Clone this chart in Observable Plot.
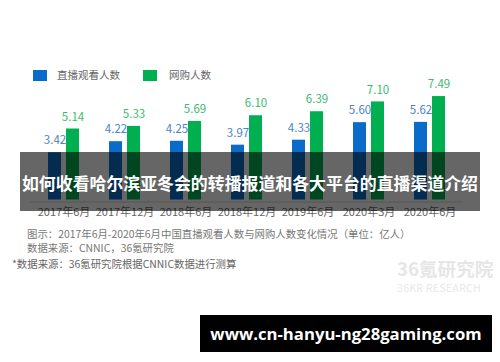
<!DOCTYPE html>
<html>
<head>
<meta charset="utf-8">
<script src="https://cdn.jsdelivr.net/npm/d3@7"></script>
<script src="https://cdn.jsdelivr.net/npm/@observablehq/plot@0.6"></script>
<style>
  html, body { margin: 0; padding: 0; background: #fff; }
  #wrap { position: relative; width: 500px; height: 362px; overflow: hidden; background: #fff;
          font-family: "Noto Sans CJK SC", "Noto Sans", sans-serif; }
  #chart { position: absolute; left: 0; top: 0; }
  .abs { position: absolute; white-space: nowrap; line-height: 1; }
  .sw { position: absolute; width: 14px; height: 11px; }
</style>
</head>
<body>
<div id="wrap">
  <div id="chart"></div>
  <div class="sw" style="left:33px;top:70px;background:#0a6cc8"></div>
  <div class="abs" style="left:57px;top:70px;font-size:10.5px;color:#666">直播观看人数</div>
  <div class="sw" style="left:143px;top:70px;background:#00b050"></div>
  <div class="abs" style="left:169px;top:70px;font-size:10.5px;color:#666">网购人数</div>

  <div class="abs" style="left:20px;top:152px;width:460px;height:59px;background:rgba(0,0,0,0.6)"></div>
  <div class="abs" style="left:16px;top:175px;width:468px;text-align:center;font-size:16.9px;font-weight:bold;color:#fff">如何收看哈尔滨亚冬会的转播报道和各大平台的直播渠道介绍</div>

  <div class="abs" style="left:27px;top:229px;font-size:10.4px;color:#777">图示：2017年6月-2020年6月中国直播观看人数与网购人数变化情况（单位：亿人）</div>
  <div class="abs" style="left:27px;top:243px;font-size:10.4px;color:#777">数据来源：CNNIC，36氪研究院</div>
  <div class="abs" style="left:12px;top:259px;font-size:10.4px;color:#666">*数据来源：36氪研究院根据CNNIC数据进行测算</div>
  <div class="abs" style="left:397px;top:259px;font-size:18.6px;font-weight:bold;color:#e6e6e6">36氪研究院</div>
  <div class="abs" style="left:397px;top:283px;font-size:10.5px;color:#e8e8e8;letter-spacing:0.3px">36KR RESEARCH</div>

  <div class="abs" style="left:200px;top:315px;width:292px;height:37px;background:#000"></div>
  <div class="abs" style="left:200px;top:326px;width:292px;text-align:center;font-family:'Open Sans',sans-serif;font-size:16.7px;font-weight:bold;color:#fff">www.cn-hanyu-ng28gaming.com</div>
</div>
<script>
const periods = ["2017年6月","2017年12月","2018年6月","2018年12月","2019年6月","2020年3月","2020年6月"];
const liveViewers = [3.42,4.22,4.25,3.97,4.33,5.60,5.62];
const onlineShoppers = [5.14,5.33,5.69,6.10,6.39,7.10,7.49];

const rows = periods.map((p, i) => ({period: p, live: liveViewers[i], shop: onlineShoppers[i]}));

const chart = Plot.plot({
  width: 500,
  height: 362,
  marginLeft: 30,
  marginRight: 37,
  marginTop: 89,
  marginBottom: 162.5,
  style: {fontFamily: "'Noto Sans CJK SC', 'Noto Sans', sans-serif", background: "transparent"},
  x: {domain: periods, padding: 0},
  y: {domain: [0, 8], axis: null},
  marks: [
    Plot.ruleY([0], {stroke: "#d9d9d9", dy: 2}),
    Plot.barY(rows, {x: "period", y: "live", fill: "#0a6cc8", insetLeft: 15, insetRight: 33}),
    Plot.barY(rows, {x: "period", y: "shop", fill: "#00b050", insetLeft: 33, insetRight: 15}),
    Plot.text(rows, {x: "period", y: "live", text: d => d.live.toFixed(2), dx: -9, dy: -12, fill: "#4a84c2", fontSize: 11.5}),
    Plot.text(rows, {x: "period", y: "shop", text: d => d.shop.toFixed(2), dx: 9, dy: -12, fill: "#3dba72", fontSize: 11.5}),
    Plot.axisX({tickSize: 0, tickPadding: 8, fontSize: 11, fill: "#666", label: null})
  ]
});
document.getElementById("chart").appendChild(chart);
</script>
</body>
</html>
